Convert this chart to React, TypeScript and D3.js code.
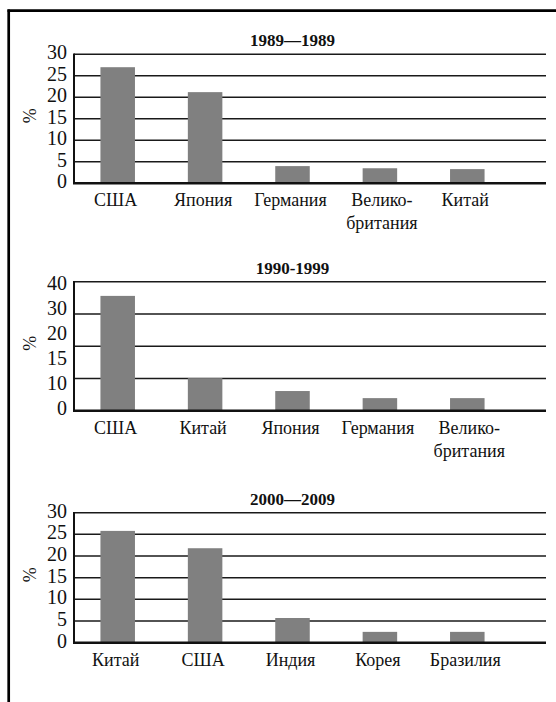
import React from "react";
import * as d3 from "d3";

const periods = ["1989—1989", "1990-1999", "2000—2009"];

const categories1 = ["США", "Япония", "Германия", "Велико-британия", "Китай"];
const values1 = [27.0, 21.2, 4.0, 3.5, 3.3];
const gridTicks1 = [0, 5, 10, 15, 20, 25, 30];
const tickLabels1 = ["0", "5", "10", "15", "20", "25", "30"];

const categories2 = ["США", "Китай", "Япония", "Германия", "Велико-британия"];
const values2 = [35.6, 10.1, 6.1, 3.9, 3.9];
const gridTicks2 = [0, 10, 20, 30, 40];
const tickLabels2 = ["0", "10", "15", "20", "30", "40"];

const categories3 = ["Китай", "США", "Индия", "Корея", "Бразилия"];
const values3 = [25.8, 21.8, 5.7, 2.5, 2.5];
const gridTicks3 = [0, 5, 10, 15, 20, 25, 30];
const tickLabels3 = ["0", "5", "10", "15", "20", "25", "30"];

const FONT = "Liberation Serif";

type PanelProps = {
  title: string;
  cats: string[];
  vals: number[];
  grid: number[];
  labels: string[];
  top: number;
  bottom: number;
  evenLabels: boolean;
};

function splitLabel(s: string): string[] {
  const i = s.indexOf("-");
  if (i < 0) return [s];
  return [s.slice(0, i + 1), s.slice(i + 1)];
}

const txt = (size: number, bold = false): React.CSSProperties => ({
  fontFamily: FONT,
  fontSize: size,
  fontWeight: bold ? 700 : 400,
});

function Panel({ title, cats, vals, grid, labels, top, bottom, evenLabels }: PanelProps) {
  const left = 74;
  const right = 546;
  const bandRight = 511;
  const x = d3.scaleBand<string>().domain(cats).range([left, bandRight]).paddingInner(0.605).paddingOuter(0.3025);
  const maxV = grid[grid.length - 1];
  const y = d3.scaleLinear().domain([0, maxV]).range([bottom, top]);
  const labelY = d3.scalePoint<string>().domain([...labels]).range([bottom - 3, top + 1]);
  const TS = 20;
  return (
    <g>
      <text x={(left + bandRight) / 2} y={top - 8} textAnchor="middle" style={txt(17, true)} fill="#111">
        {title}
      </text>
      {grid.filter((t) => t > 0).map((t) => (
        <line key={t} x1={left} x2={right} y1={y(t)} y2={y(t)} stroke="#1a1a1a" strokeWidth={1.5} />
      ))}
      {cats.map((c, i) => (
        <rect key={c} x={x(c)} y={y(vals[i])} width={x.bandwidth()} height={bottom - y(vals[i])} fill="#808080" />
      ))}
      <line x1={left} x2={left} y1={top - 0.75} y2={bottom} stroke="#111" strokeWidth={2} />
      <line x1={left - 1} x2={right} y1={bottom} y2={bottom} stroke="#111" strokeWidth={2.5} />
      {evenLabels
        ? labels.map((l) => (
            <text key={l} x={67} y={(labelY(l) as number) + TS * 0.35} textAnchor="end" style={txt(TS)} fill="#111">
              {l}
            </text>
          ))
        : grid.map((t, i) => (
            <text key={t} x={67} y={y(t) - 2 + TS * 0.35} textAnchor="end" style={txt(TS)} fill="#111">
              {labels[i]}
            </text>
          ))}
      <text
        transform={`translate(${30 + 18 * 0.35},${(top + bottom) / 2 - 3}) rotate(-90)`}
        x={0}
        y={0}
        textAnchor="middle"
        style={txt(18)}
        fill="#111"
      >
        %
      </text>
      {cats.map((c) => {
        const lines = splitLabel(c);
        const cx = (x(c) as number) + x.bandwidth() / 2 + (lines.length > 1 ? 2 : -2);
        return (
          <g key={c}>
            {lines.map((ln, j) => (
              <text key={j} x={cx} y={bottom + 23 + j * 23} textAnchor="middle" style={txt(18)} fill="#111">
                {ln}
              </text>
            ))}
          </g>
        );
      })}
    </g>
  );
}

export default function App() {
  return (
    <svg width={556} height={702} style={{ position: "absolute", left: 0, top: 0, background: "#fff", fontFamily: FONT }}>
      <rect x={0} y={0} width={556} height={702} fill="#fff" />
      <line x1={8.7} x2={8.7} y1={9.5} y2={702} stroke="#000" strokeWidth={2.7} />
      <line x1={7.5} x2={556} y1={10.7} y2={10.7} stroke="#000" strokeWidth={2.7} />
      <Panel title={periods[0]} cats={categories1} vals={values1} grid={gridTicks1} labels={tickLabels1} top={54.3} bottom={183.3} evenLabels={false} />
      <Panel title={periods[1]} cats={categories2} vals={values2} grid={gridTicks2} labels={tickLabels2} top={281.7} bottom={410.7} evenLabels={true} />
      <Panel title={periods[2]} cats={categories3} vals={values3} grid={gridTicks3} labels={tickLabels3} top={512.7} bottom={642.7} evenLabels={false} />
    </svg>
  );
}
